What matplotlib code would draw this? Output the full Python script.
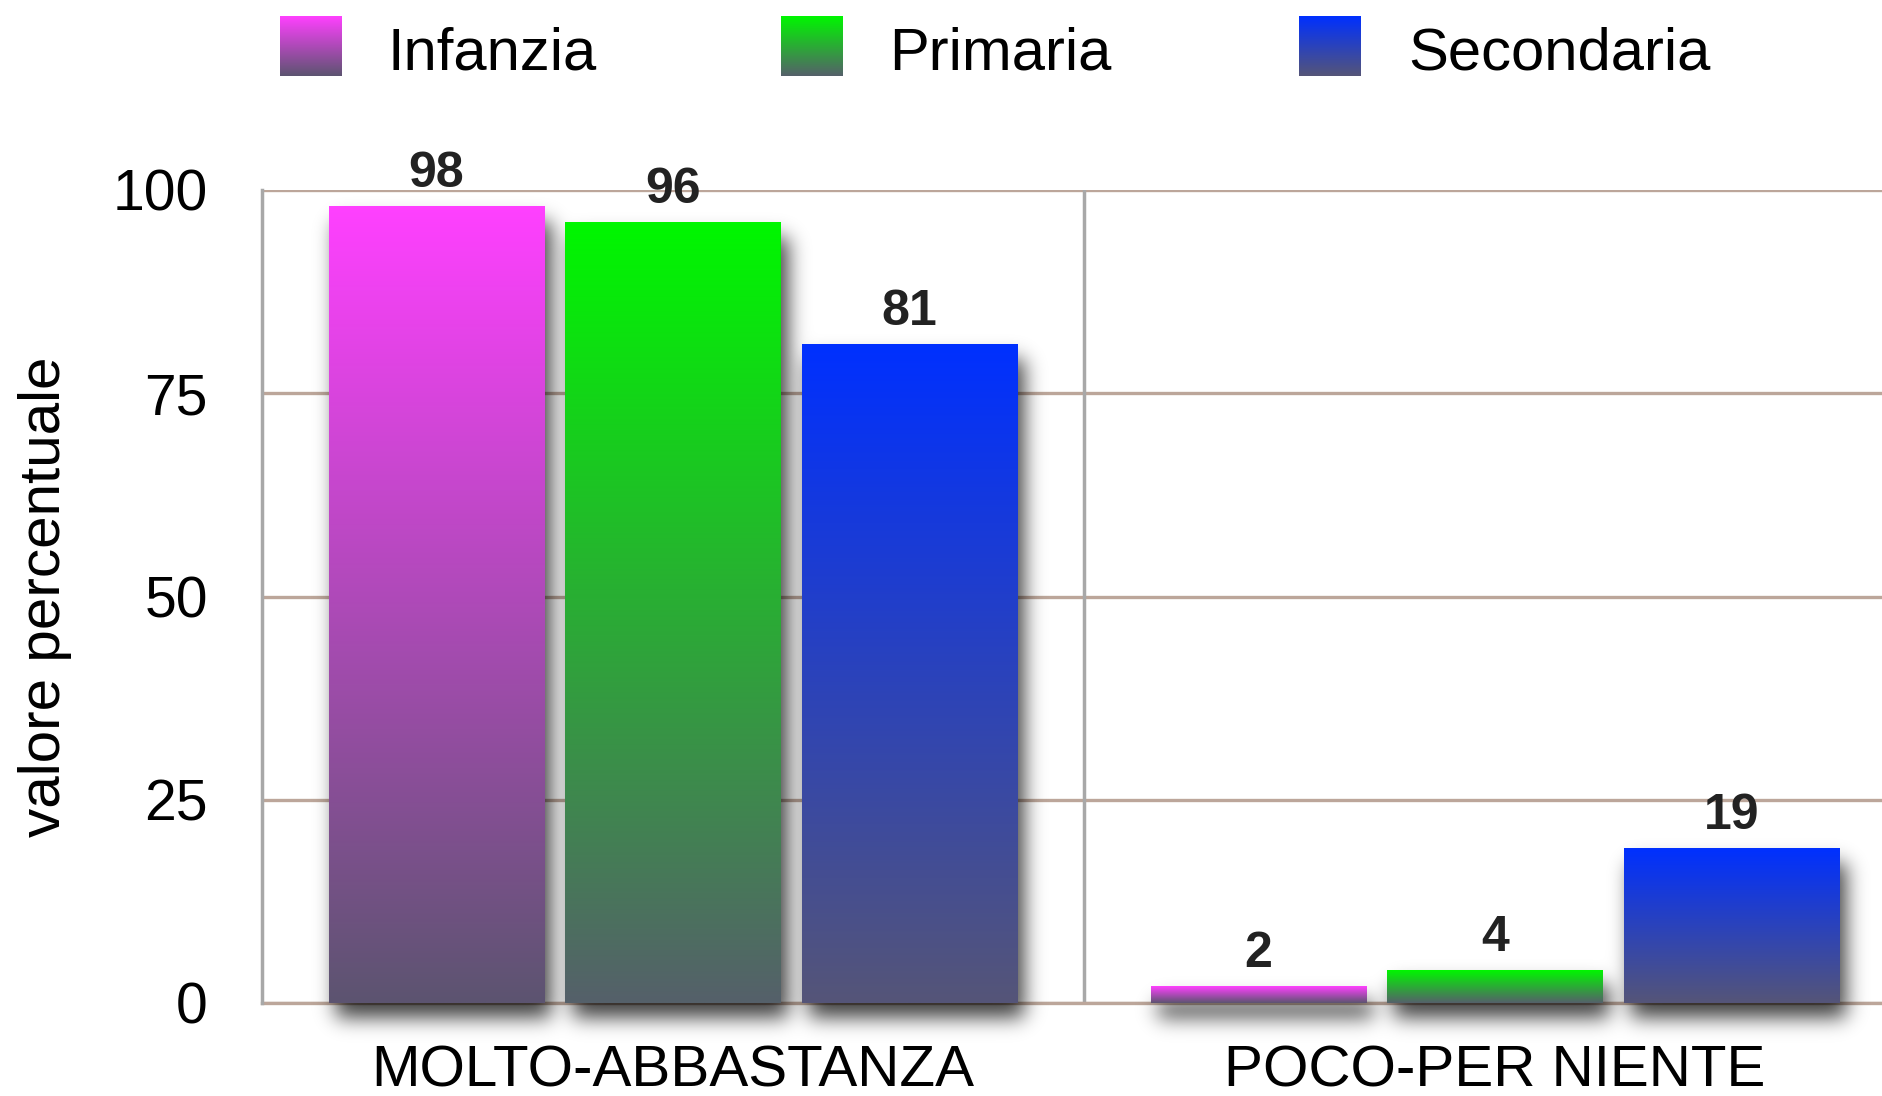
import numpy as np
import matplotlib
matplotlib.use("Agg")
import matplotlib.pyplot as plt
from matplotlib.colors import to_rgb

plt.rcParams['font.family'] = ['Liberation Sans', 'DejaVu Sans']

# data
categories = ["MOLTO-ABBASTANZA", "POCO-PER NIENTE"]
series = ["Infanzia", "Primaria", "Secondaria"]
infanzia = [98, 2]
primaria = [96, 4]
secondaria = [81, 19]
y_ticks = [0, 25, 50, 75, 100]

# gradient colours, top -> bottom
top_colors = ["#ff40ff", "#00f700", "#0030ff"]
bottom_colors = ["#5c5470", "#55606a", "#555578"]


def gradient(top, bottom, n=256):
    t = np.linspace(0, 1, n)[:, None, None]
    return (1 - t) * np.array(to_rgb(top)) + t * np.array(to_rgb(bottom))


def blur(img, sigma):
    r = int(sigma * 3.5)
    k = np.exp(-0.5 * (np.arange(-r, r + 1) / sigma) ** 2)
    k /= k.sum()
    img = np.apply_along_axis(lambda v: np.convolve(v, k, mode='same'), 1, img)
    img = np.apply_along_axis(lambda v: np.convolve(v, k, mode='same'), 0, img)
    return img


W_PX, H_PX = 1883, 1096
fig = plt.figure(figsize=(W_PX / 100, H_PX / 100), dpi=100)
ax = fig.add_axes([262 / W_PX, 93 / H_PX, 1644 / W_PX, 813 / H_PX])

x = np.arange(len(categories))
width = 0.262
step = 0.288
all_bars = []
for i, (vals, top, bot) in enumerate(zip([infanzia, primaria, secondaria], top_colors, bottom_colors)):
    bars = ax.bar(x + (i - 1) * step, vals, width, color='none', edgecolor='none', zorder=3)
    for rect in bars:
        ax.imshow(gradient(top, bot),
                  extent=(rect.get_x(), rect.get_x() + rect.get_width(), 0, rect.get_height()),
                  aspect='auto', zorder=3, interpolation='bilinear')
    ax.bar_label(bars, padding=7, fontsize=36, fontweight='bold', color='#222222', zorder=4)
    all_bars.extend(bars)

# soft drop shadow under the bars
sw, sh = 1644, 980
ylo, yhi = -16.0, 104.0
xs = np.linspace(-0.5, 1.5, sw)
ys = np.linspace(yhi, ylo, sh)
dx, dy = 7 / 822, -15 / 8.13
mask = np.zeros((sh, sw))
for rect in all_bars:
    x0 = rect.get_x() + dx
    x1 = x0 + rect.get_width()
    y1 = rect.get_height() + dy
    mask[np.ix_((ys >= dy) & (ys <= y1), (xs >= x0) & (xs <= x1))] = 1.0
shadow = np.zeros((sh, sw, 4))
shadow[..., 3] = blur(mask, 10) * 0.75
im = ax.imshow(shadow, extent=(-0.5, 1.5, ylo, yhi), aspect='auto', zorder=2,
               interpolation='bilinear')
im.set_clip_on(False)

ax.set_xlim(-0.5, 1.5)
ax.set_ylim(0, 100)
ax.set_yticks(y_ticks)
ax.set_xticks(x)
ax.set_xticklabels(categories)
ax.yaxis.grid(True, color='#bca69a', linewidth=2.4)
ax.set_axisbelow(True)
ax.axvline(0.5, color='#a8a8a8', linewidth=2.5, zorder=1)
for s in ['top', 'right']:
    ax.spines[s].set_visible(False)
ax.spines['left'].set_color('#a8a8a8')
ax.spines['left'].set_linewidth(2.5)
ax.spines['bottom'].set_color('#bca69a')
ax.spines['bottom'].set_linewidth(2.4)
ax.spines['bottom'].set_zorder(1)
ax.tick_params(axis='y', length=0, pad=39, labelsize=41)
ax.tick_params(axis='x', length=0, pad=30, labelsize=42)
ax.set_ylabel("valore percentuale", fontsize=42)
ax.yaxis.set_label_coords(-190 / 1644, 0.5)

# legend with gradient swatches
swatch_x = [280, 781, 1299]
text_x = [388, 889, 1408]
for name, top, bot, sx, tx in zip(series, top_colors, bottom_colors, swatch_x, text_x):
    sax = fig.add_axes([sx / W_PX, 1 - 76 / H_PX, 62 / W_PX, 60 / H_PX])
    sax.imshow(gradient(top, bot), aspect='auto', interpolation='bilinear')
    sax.axis('off')
    fig.text(tx / W_PX, 1 - 70 / H_PX, name, fontsize=43, va='baseline', ha='left')

fig.savefig("out.png", dpi=100)
